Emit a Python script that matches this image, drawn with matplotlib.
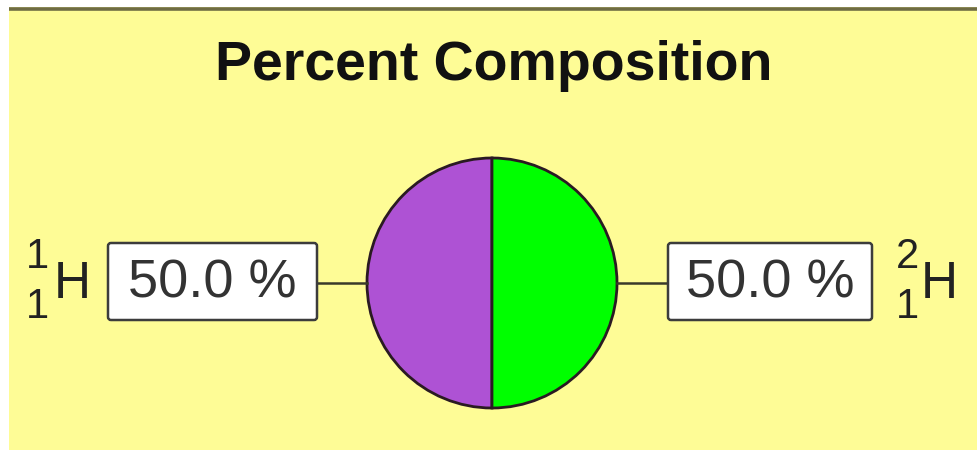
import matplotlib
matplotlib.use("Agg")
import matplotlib.pyplot as plt
from matplotlib.patches import Rectangle, FancyBboxPatch

title = "Percent Composition"
symbols = ["H", "H"]
mass_numbers = ["1", "2"]
atomic_numbers = ["1", "1"]
percents = [50.0, 50.0]
colors = ["#AE52D4", "#00FF00"]

W, H = 977, 451
fig = plt.figure(figsize=(W / 100, H / 100), dpi=100, facecolor="white")
ax = fig.add_axes([0, 0, 1, 1])

def Y(y):
    return H - y

cx, cy, r = 492, 283, 125
ax.pie(percents, colors=colors, startangle=90, counterclock=True,
       center=(cx, Y(cy)), radius=r,
       wedgeprops=dict(edgecolor="#2a1a22", linewidth=2.0))
ax.set_xlim(0, W)
ax.set_ylim(0, H)
ax.set_aspect("equal")
ax.axis("off")

# background panel
ax.add_patch(Rectangle((9, Y(450)), W - 9, 450 - 7, facecolor="#FEFC96",
                       edgecolor="none", zorder=-10))
ax.plot([9, W], [Y(8.5), Y(8.5)], color="#6f6c44", lw=2.6, zorder=-5,
        solid_capstyle="butt")

fam = ["Liberation Sans", "DejaVu Sans"]
ax.text(cx + 2, Y(66), title, ha="center", va="center", fontsize=40,
        fontweight="bold", family=fam, color="#111111")

# boxes and connectors
boxes = [(108, 317), (668, 872)]
by0, by1 = 243, 320
for i, (x0, x1) in enumerate(boxes):
    ax.add_patch(FancyBboxPatch((x0, Y(by1)), x1 - x0, by1 - by0,
                                boxstyle="round,pad=0,rounding_size=3",
                                facecolor="white", edgecolor="#3c3c3c",
                                linewidth=1.8, zorder=3))
    ax.text((x0 + x1) / 2, Y(283), f"{percents[i]:.1f} %", ha="center",
            va="center", fontsize=39, family=fam, color="#333333", zorder=4)
ax.plot([317, cx - r], [Y(283), Y(283)], color="#3a3a2a", lw=1.8, zorder=1)
ax.plot([cx + r, 668], [Y(283), Y(283)], color="#3a3a2a", lw=1.8, zorder=1)

# isotope labels
label_pos = [(37, 72), (907, 939)]  # (number x, symbol x)
for i, (nx, sx) in enumerate(label_pos):
    ax.text(sx, Y(285), symbols[i], ha="center", va="center", fontsize=37,
            family=fam, color="#222222")
    ax.text(nx, Y(257), mass_numbers[i], ha="center", va="center",
            fontsize=30, family=fam, color="#222222")
    ax.text(nx, Y(307), atomic_numbers[i], ha="center", va="center",
            fontsize=30, family=fam, color="#222222")

fig.savefig("out.png", dpi=100, facecolor="white")
